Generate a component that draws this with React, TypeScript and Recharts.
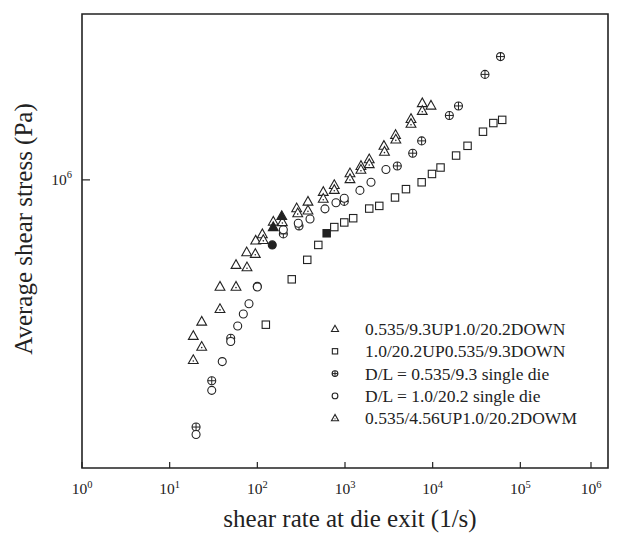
import React from 'react';
import { ScatterChart, Scatter, XAxis, YAxis, ReferenceArea, Legend, Label } from 'recharts';

// shear rate (1/s), average shear stress (Pa)
const upSmallDownLarge: [number, number][] = [
  [18.6, 5.21e5], [23.2, 5.53e5], [37.5, 6.4e5], [57.1, 7.01e5], [75.6, 7.39e5],
  [95.8, 7.76e5], [114, 7.97e5], [152, 8.4e5], [281, 8.88e5], [378, 9.13e5],
  [565, 9.51e5], [755, 9.79e5], [1140, 1.028e6], [1520, 1.06e6], [1890, 1.09e6],
  [2780, 1.153e6], [3770, 1.207e6], [5660, 1.29e6], [7610, 1.378e6], [9570, 1.364e6],
];
const upLargeDownSmall: [number, number][] = [
  [125, 5.46e5], [247, 6.6e5], [371, 7.16e5], [496, 7.62e5], [755, 8.21e5],
  [981, 8.37e5], [1240, 8.52e5], [1890, 8.87e5], [2460, 8.97e5], [3720, 9.29e5],
  [4960, 9.62e5], [7490, 9.9e5], [9820, 1.025e6], [12300, 1.053e6], [18500, 1.107e6],
  [25000, 1.153e6], [37500, 1.223e6], [49200, 1.268e6], [62100, 1.285e6],
];
const singleSmall: [number, number][] = [
  [20, 3.56e5], [30.2, 4.32e5], [49.7, 5.16e5], [99.9, 6.41e5], [198, 7.98e5],
  [299, 8.25e5], [981, 9.14e5], [3950, 1.06e6], [5920, 1.118e6], [7490, 1.177e6],
  [15500, 1.309e6], [19700, 1.362e6], [39500, 1.554e6], [59400, 1.674e6],
];
const singleLarge: [number, number][] = [
  [20, 3.45e5], [30.2, 4.15e5], [39.8, 4.68e5], [49.7, 5.09e5], [59.7, 5.43e5],
  [69.2, 5.71e5], [80.3, 5.96e5], [99.9, 6.39e5], [198, 8.12e5], [293, 8.34e5],
  [399, 8.49e5], [591, 8.86e5], [789, 9.09e5], [981, 9.26e5], [1480, 9.57e5],
  [1980, 9.9e5], [2930, 1.044e6],
];
const upShortDownLarge: [number, number][] = [
  [18.6, 4.71e5], [23.2, 4.98e5], [37.5, 5.83e5], [57.1, 6.4e5], [76.2, 6.94e5],
  [94.8, 7.34e5], [117, 7.78e5], [193, 8.38e5], [289, 8.7e5], [378, 8.8e5],
  [565, 9.24e5], [755, 9.59e5], [1140, 1.003e6], [1520, 1.043e6], [1890, 1.068e6],
  [2820, 1.125e6], [3800, 1.184e6], [5660, 1.264e6], [7610, 1.334e6],
];
// filled markers (not in legend)
const filledTriangles: [number, number][] = [[152, 8.21e5], [190, 8.6e5]];
const filledCircles: [number, number][] = [[148, 7.62e5]];
const filledSquares: [number, number][] = [[618, 8.0e5]];

const legendLabels = [
  '0.535/9.3UP1.0/20.2DOWN',
  '1.0/20.2UP0.535/9.3DOWN',
  'D/L = 0.535/9.3 single die',
  'D/L = 1.0/20.2 single die',
  '0.535/4.56UP1.0/20.2DOWM',
];
const legendKinds = ['tri', 'square', 'plus', 'circle', 'dotTri'];

const xTicks = [1, 10, 100, 1000, 10000, 100000, 1000000];
const yTicks = [1000000];

const INK = '#222';
const SERIF = '"Liberation Serif", "Times New Roman", serif';

const pts = (arr: [number, number][]) => arr.map(([x, y]) => ({ x, y }));

const marker = (kind: string, cx: number, cy: number, s = 1, filled = false) => {
  const fill = filled ? INK : '#fff';
  if (kind === 'tri' || kind === 'dotTri') {
    const p = `${cx},${cy - 5.2 * s} ${cx - 4.9 * s},${cy + 3.5 * s} ${cx + 4.9 * s},${cy + 3.5 * s}`;
    return (
      <g>
        <polygon points={p} fill={fill} stroke={INK} strokeWidth={1.1} />
        {kind === 'dotTri' && <circle cx={cx} cy={cy + 0.9 * s} r={0.8 * s} fill={INK} />}
      </g>
    );
  }
  if (kind === 'square') {
    const h = 3.7 * s;
    return <rect x={cx - h} y={cy - h} width={2 * h} height={2 * h} fill={fill} stroke={INK} strokeWidth={1.1} />;
  }
  const r = 4 * s;
  return (
    <g>
      <circle cx={cx} cy={cy} r={r} fill={fill} stroke={INK} strokeWidth={1.1} />
      {kind === 'plus' && (
        <path d={`M${cx - r},${cy}H${cx + r}M${cx},${cy - r}V${cy + r}`} stroke={INK} strokeWidth={1} />
      )}
    </g>
  );
};

const shapeOf = (kind: string, filled = false) => (p: any) => marker(kind, p.cx, p.cy, 1, filled);

const XTick = ({ x, y, payload }: any) => (
  <g>
    <line x1={x} x2={x} y1={y} y2={y - 6} stroke={INK} strokeWidth={1.2} />
    <text x={x} y={y + 26} textAnchor="middle" fontFamily={SERIF} fontSize={15.5} fill={INK}>
      10<tspan dy={-6.5} fontSize={10.5}>{Math.round(Math.log10(payload.value))}</tspan>
    </text>
  </g>
);

const YTick = ({ x, y, payload }: any) => (
  <g>
    <line x1={x} x2={x + 8} y1={y} y2={y} stroke={INK} strokeWidth={1.2} />
    <text x={x - 10} y={y + 5} textAnchor="end" fontFamily={SERIF} fontSize={15.5} fill={INK}>
      10<tspan dy={-6.5} fontSize={10.5}>{Math.round(Math.log10(payload.value))}</tspan>
    </text>
  </g>
);

const LegendBox = () => (
  <svg width={290} height={115}>
    {legendLabels.map((label, i) => {
      const cy = 11 + i * 22.3;
      return (
        <g key={label}>
          {marker(legendKinds[i], 17, cy, 0.72)}
          <text x={47} y={cy + 6} fontFamily={SERIF} fontSize={17.5} fill={INK}>{label}</text>
        </g>
      );
    })}
  </svg>
);

export default function App() {
  return (
    <div style={{ position: 'absolute', left: 0, top: 0, background: '#fff' }}>
      <ScatterChart width={619} height={538} margin={{ top: 14, right: 11, bottom: 0, left: 0 }}>
        <XAxis
          dataKey="x"
          type="number"
          scale="log"
          domain={[1, 1000000]}
          ticks={xTicks}
          allowDataOverflow
          height={70}
          axisLine={false}
          tickLine={false}
          tickSize={0}
          tickMargin={0}
          tick={<XTick />}
        >
          <Label
            content={() => (
              <text x={350} y={527} textAnchor="middle" fontFamily={SERIF} fontSize={25} fill={INK}>
                shear rate at die exit (1/s)
              </text>
            )}
          />
        </XAxis>
        <YAxis
          dataKey="y"
          type="number"
          scale="log"
          domain={[300000, 2000000]}
          ticks={yTicks}
          allowDataOverflow
          width={82}
          axisLine={false}
          tickLine={false}
          tickSize={0}
          tickMargin={0}
          tick={<YTick />}
        >
          <Label
            content={() => (
              <text
                x={32}
                y={229}
                transform="rotate(-90, 32, 229)"
                textAnchor="middle"
                fontFamily={SERIF}
                fontSize={25}
                fill={INK}
              >
                Average shear stress (Pa)
              </text>
            )}
          />
        </YAxis>
        <ReferenceArea
          x1={1}
          x2={1000000}
          y1={300000}
          y2={2000000}
          fill="none"
          stroke={INK}
          strokeWidth={1.6}
          ifOverflow="visible"
        />
        <Legend
          layout="vertical"
          align="center"
          verticalAlign="middle"
          content={() => <LegendBox />}
          wrapperStyle={{ left: 318, top: 318, width: 290, height: 115 }}
        />
        <Scatter name={legendLabels[0]} data={pts(upSmallDownLarge)} shape={shapeOf('tri')} isAnimationActive={false} />
        <Scatter name={legendLabels[1]} data={pts(upLargeDownSmall)} shape={shapeOf('square')} isAnimationActive={false} />
        <Scatter name={legendLabels[2]} data={pts(singleSmall)} shape={shapeOf('plus')} isAnimationActive={false} />
        <Scatter name={legendLabels[3]} data={pts(singleLarge)} shape={shapeOf('circle')} isAnimationActive={false} />
        <Scatter name={legendLabels[4]} data={pts(upShortDownLarge)} shape={shapeOf('dotTri')} isAnimationActive={false} />
        <Scatter data={pts(filledTriangles)} shape={shapeOf('tri', true)} legendType="none" isAnimationActive={false} />
        <Scatter data={pts(filledCircles)} shape={shapeOf('circle', true)} legendType="none" isAnimationActive={false} />
        <Scatter data={pts(filledSquares)} shape={shapeOf('square', true)} legendType="none" isAnimationActive={false} />
      </ScatterChart>
    </div>
  );
}
